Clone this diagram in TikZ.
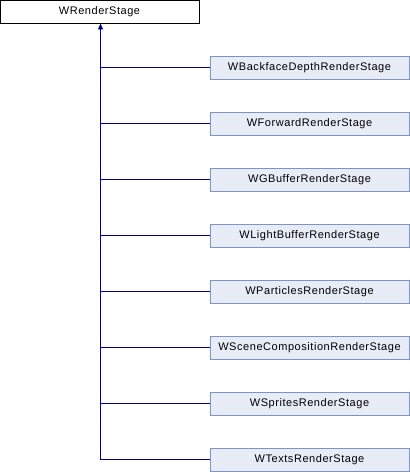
\documentclass[tikz,border=0pt]{standalone}
\usepackage{fontspec}
\setmainfont{Liberation Sans}[LetterSpace=5]
\usetikzlibrary{arrows.meta}
\definecolor{boxfill}{HTML}{E8ECF6}
\definecolor{boxline}{HTML}{7C95C8}
\definecolor{edge}{HTML}{000080}
\begin{document}
\begin{tikzpicture}[x=1pt,y=-1pt,
  basebox/.style={draw=black, fill=white, line width=0.9pt, minimum width=199pt, minimum height=23pt, inner sep=0pt, font=\fontsize{11}{13}\selectfont},
  childbox/.style={draw=boxline, fill=boxfill, line width=0.9pt, minimum width=199pt, minimum height=23pt, inner sep=0pt, font=\fontsize{11}{13}\selectfont},
  link/.style={draw=edge, line width=0.9pt}]
\useasboundingbox (0,0) rectangle (410,472);
\node[basebox] (base) at (99.5,11.5) {WRenderStage};
\foreach \name/\txt [count=\i from 0] in {
  c1/WBackfaceDepthRenderStage,
  c2/WForwardRenderStage,
  c3/WGBufferRenderStage,
  c4/WLightBufferRenderStage,
  c5/WParticlesRenderStage,
  c6/WSceneCompositionRenderStage,
  c7/WSpritesRenderStage,
  c8/WTextsRenderStage}{
  \node[childbox] (\name) at (309.5,{67.5+56*\i}) {\txt};
  \coordinate (j\name) at (100.5,{67.5+56*\i});
  \draw[link] (j\name) -- (\name.west);
}
\draw[link, -{Triangle[width=5pt,length=6pt]}] (jc8) -- (base.south -| jc8);
\end{tikzpicture}
\end{document}
